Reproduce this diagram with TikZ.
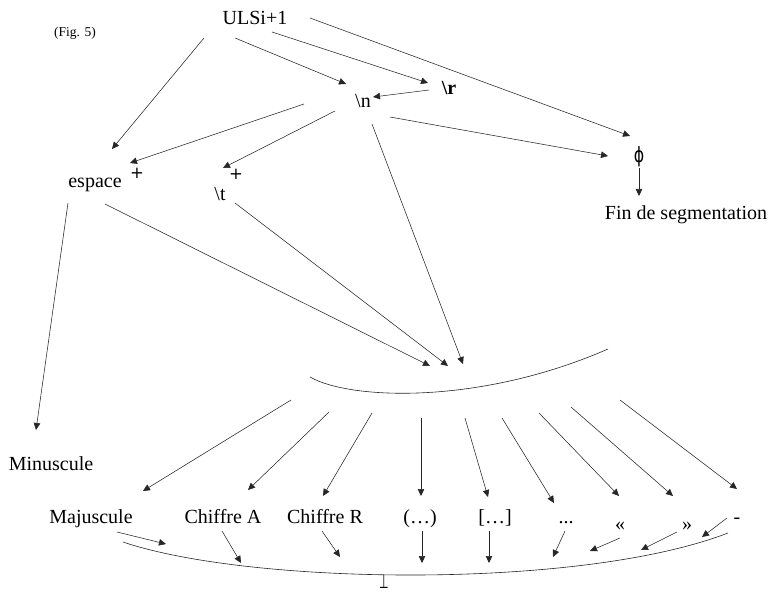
\documentclass[tikz,border=0pt]{standalone}
\usepackage{fontspec}
\setmainfont{Liberation Serif}
\newfontfamily\symfont{DejaVu Sans}
\usepackage{graphicx}
\usetikzlibrary{arrows.meta}
\begin{document}
\begin{tikzpicture}[x=1pt,y=-1pt,
  lbl/.style={inner sep=0pt, anchor=base, font=\fontsize{20}{24}\selectfont},
  plusmark/.style={inner sep=0pt, font=\symfont\fontsize{16.5}{18}\selectfont},
  arr/.style={draw=black!85, line width=0.55pt, -{Triangle[length=7pt,width=6.5pt]}},
  curve/.style={draw=black!85, line width=0.6pt}]
\useasboundingbox (0,0) rectangle (773,593);

% --- upper part: labels ---
\node[lbl] (ulsi) at (255,25) {ULSi+1};
\node[lbl, font=\fontsize{13.5}{15}\selectfont] (fig) at (75,37) {(Fig. 5)};
\node[lbl] (nl) at (363,108) {\textbackslash n};
\node[lbl, font=\fontsize{20}{24}\selectfont\bfseries] (cr) at (449,95) {\textbackslash r};
\node[lbl] (esp) at (95,188) {espace};
\node[plusmark] (pe) at (137,173) {+};
\node[lbl] (tab) at (220,201) {\textbackslash t};
\node[plusmark] (pt) at (236,174) {+};
\node[inner sep=0pt] (phi) at (639,157)
  {\scalebox{0.75}[1]{\symfont\fontsize{21}{24}\selectfont ϕ}};
\node[lbl] (fin) at (686,220) {Fin de segmentation};
\node[lbl] (minus) at (51,470) {Minuscule};

% --- lower part: labels ---
\node[lbl] (maj) at (91,523) {Majuscule};
\node[lbl] (chA) at (223,523) {Chiffre A};
\node[lbl] (chR) at (325,523) {Chiffre R};
\node[lbl] (par) at (420,523) {(…)};
\node[lbl] (brk) at (495,523) {[…]};
\node[lbl] (dots) at (566,523) {...};
\node[lbl] (lg) at (620,530) {«};
\node[lbl] (rg) at (687,530) {»};
\node[lbl] (hy) at (737,523) {-};
\node[inner sep=0pt, anchor=base] (bot) at (384,588.5)
  {\scalebox{0.55}[0.95]{\symfont\fontsize{20}{22}\selectfont ⊥}};

% --- the two junction curves ---
\draw[curve] (310,377) .. controls (350,400) and (480,405) .. (608,349);
\draw[curve] (123,542) .. controls (250,585) and (580,590) .. (728,533);

% points just above the upper curve
\coordinate (j1) at (430,366);
\coordinate (j2) at (448,366);
\coordinate (j3) at (463,364);
% points just below the upper curve
\coordinate (o1) at (291,400);
\coordinate (o2) at (329,412);
\coordinate (o3) at (372,413);
\coordinate (o4) at (421,418);
\coordinate (o5) at (465,418);
\coordinate (o6) at (502,418);
\coordinate (o7) at (539,413);
\coordinate (o8) at (571,407);
\coordinate (o9) at (620,400);
% points just above the lower curve
\coordinate (e1) at (166,544);
\coordinate (e2) at (241,563);
\coordinate (e3) at (340,557);
\coordinate (e4) at (422,563);
\coordinate (e5) at (489,563);
\coordinate (e6) at (553,557);
\coordinate (e7) at (590,551);
\coordinate (e8) at (641,550);
\coordinate (e9) at (702,537);

% --- connectors of the upper part ---
\draw[arr] ([shift={(-51,13)}]ulsi.base) -- ([shift={(17,-39)}]esp.base);
\draw[arr] ([shift={(-20,13)}]ulsi.base) -- ([shift={(-17,-24)}]nl.base);
\draw[arr] ([shift={(17,7)}]ulsi.base) -- ([shift={(-21,-12)}]cr.base);
\draw[arr] ([shift={(55,-7)}]ulsi.base) -- ([shift={(-9,-21)}]phi.center);
\draw[arr] ([shift={(-20,-5)}]cr.base) -- ([shift={(10,-11)}]nl.base);
\draw[arr] ([shift={(-59,-4)}]nl.base) -- ([shift={(35,-25)}]esp.base);
\draw[arr] ([shift={(-28,3)}]nl.base) -- ([shift={(3,-33)}]tab.base);
\draw[arr] ([shift={(27,9)}]nl.base) -- ([shift={(-31,-1)}]phi.center);
\draw[arr] ([shift={(9,16)}]nl.base) -- (j3);
\draw[arr] ([shift={(15,2)}]tab.base) -- (j2);
\draw[arr] ([shift={(10,16)}]esp.base) -- (j1);
\draw[arr] ([shift={(-27,15)}]esp.base) -- ([shift={(-15,-40)}]minus.base);
\draw[arr] ([shift={(0,11)}]phi.center) -- ([shift={(-47,-24)}]fin.base);

% --- connectors from the upper curve ---
\draw[arr] (o1) -- ([shift={(52,-32)}]maj.base);
\draw[arr] (o2) -- ([shift={(25,-33)}]chA.base);
\draw[arr] (o3) -- ([shift={(-2,-27)}]chR.base);
\draw[arr] (o4) -- ([shift={(1,-27)}]par.base);
\draw[arr] (o5) -- ([shift={(-7,-26)}]brk.base);
\draw[arr] (o6) -- ([shift={(-12,-20)}]dots.base);
\draw[arr] (o7) -- ([shift={(-1,-34)}]lg.base);
\draw[arr] (o8) -- ([shift={(-14,-34)}]rg.base);
\draw[arr] (o9) -- ([shift={(0,-34)}]hy.base);

% --- connectors to the lower curve ---
\draw[arr] ([shift={(26,9)}]maj.base) -- (e1);
\draw[arr] ([shift={(-1,8)}]chA.base) -- (e2);
\draw[arr] ([shift={(-3,8)}]chR.base) -- (e3);
\draw[arr] ([shift={(2,8)}]par.base) -- (e4);
\draw[arr] ([shift={(-6,8)}]brk.base) -- (e5);
\draw[arr] ([shift={(-1,8)}]dots.base) -- (e6);
\draw[arr] ([shift={(0,8)}]lg.base) -- (e7);
\draw[arr] ([shift={(-10,2)}]rg.base) -- (e8);
\draw[arr] ([shift={(-10,-5)}]hy.base) -- (e9);
\end{tikzpicture}
\end{document}
